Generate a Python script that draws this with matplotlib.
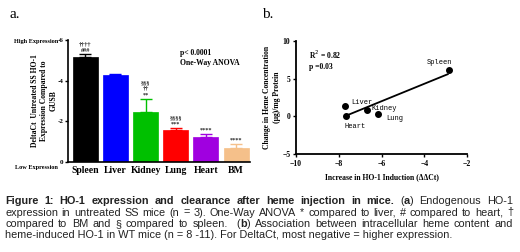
import numpy as np
import matplotlib
matplotlib.use('Agg')
import matplotlib.pyplot as plt

# Dados - painel a
tecidos = ['Spleen', 'Liver', 'Kidney', 'Lung', 'Heart', 'BM']
delta_ct = [-5.15, -4.28, -2.47, -1.57, -1.21, -0.69]
erro = [0.15, 0.05, 0.64, 0.09, 0.17, 0.18]
cores = ['#000000', '#0000ff', '#00c000', '#ff0000', '#a000e0', '#f5c08a']
marcas = [['\u2020\u2020\u2020\u2020', '###'], [], ['\u00a7\u00a7\u00a7', '\u2020\u2020', '**'],
          ['\u00a7\u00a7\u00a7\u00a7', '***'], ['****'], ['****']]

# Dados - painel b
orgaos = ['Spleen', 'Liver', 'Kidney', 'Lung', 'Heart']
ddct = [-2.85, -7.7, -6.7, -6.15, -7.65]
heme = [6.2, 1.4, 0.9, 0.3, 0.0]

W, H = 520, 252
fig = plt.figure(figsize=(W / 100, H / 100), dpi=100)

def fx(x):
    return x / W

def fy(y):
    return 1 - y / H

serif = 'Liberation Serif'

# ---------------- Painel a ----------------
ax1 = fig.add_axes([fx(68), fy(162), fx(182), 122 / H])
pos = np.arange(len(tecidos))
ax1.bar(pos, delta_ct, width=0.83, color=cores, edgecolor=cores, linewidth=0.5)
for i in pos:
    ax1.errorbar(pos[i], delta_ct[i], yerr=[[erro[i]], [0]], color=cores[i],
                 capsize=4, elinewidth=1, capthick=1)
    topo = delta_ct[i] - erro[i]
    for k, m in enumerate(reversed(marcas[i])):
        ax1.text(pos[i], topo - 0.08 - k * 0.3, m, ha='center', va='bottom',
                 fontsize=4.5, family=serif, weight='bold', color='#222222')
ax1.set_xlim(-0.57, 5.46)
ax1.set_ylim(0, -6)
ax1.set_yticks([0, -2, -4, -6])
ax1.set_yticklabels(['0', '-2', '-4', '-6'])
ax1.set_xticks(pos)
ax1.set_xticklabels(tecidos)
for s in ['top', 'right']:
    ax1.spines[s].set_visible(False)
for s in ['left', 'bottom']:
    ax1.spines[s].set_linewidth(1.2)
ax1.tick_params(axis='y', labelsize=5, length=2.5, width=1, pad=1)
ax1.tick_params(axis='x', labelsize=7, length=0, pad=3)
for t in ax1.get_yticklabels() + ax1.get_xticklabels():
    t.set_family(serif)
    t.set_weight('bold')
ax1.text(3.15, -5.55, 'p< 0.0001\nOne-Way ANOVA', fontsize=5.5, family=serif,
         weight='bold', va='top', linespacing=1.25)

fig.text(fx(10), fy(14), 'a.', fontsize=11, family=serif, va='center')
fig.text(fx(36), fy(41), 'High Expression', fontsize=4.5, family=serif,
         weight='bold', ha='center', va='center')
fig.text(fx(36), fy(167), 'Low Expression', fontsize=4.5, family=serif,
         weight='bold', ha='center', va='center')
fig.text(fx(44), fy(101), 'DeltaCt  Untreated SS HO-1\nExpression Compared to\nGUSB',
         fontsize=5.5, family=serif, weight='bold', rotation=90, ha='center',
         va='center', linespacing=1.2)

# ---------------- Painel b ----------------
ax2 = fig.add_axes([fx(296), fy(154), fx(171), 113 / H])
ax2.plot(ddct, heme, 'o', color='black', markersize=4)
a, b = np.polyfit(ddct, heme, 1)
xs = np.array([min(ddct) + 0.05, max(ddct) - 0.05])
ax2.plot(xs, a * xs + b, color='black', linewidth=1.3)
desloc = {'Spleen': (-0.45, 0.9, 'center'), 'Liver': (0.3, 0.5, 'left'),
          'Kidney': (0.25, 0.1, 'left'), 'Lung': (0.35, -0.6, 'left'),
          'Heart': (-0.1, -1.3, 'left')}
for nome, x, y in zip(orgaos, ddct, heme):
    dx, dy, al = desloc[nome]
    ax2.text(x + dx, y + dy, nome, fontsize=5, family='Liberation Mono',
             ha=al, va='center')
ax2.set_xlim(-10, -2)
ax2.set_ylim(-5, 10)
ax2.set_xticks([-10, -8, -6, -4, -2])
ax2.set_yticks([-5, 0, 5, 10])
for s in ['top', 'right']:
    ax2.spines[s].set_visible(False)
for s in ['left', 'bottom']:
    ax2.spines[s].set_linewidth(1.3)
ax2.tick_params(labelsize=5.5, length=2.5, width=1, pad=1.5)
for t in ax2.get_yticklabels() + ax2.get_xticklabels():
    t.set_family(serif)
    t.set_weight('bold')
ax2.text(-9.4, 9.0, 'R$^2$ = 0.82\np =0.03', fontsize=5.5, family=serif,
         weight='bold', va='top', linespacing=1.3)
ax2.set_xlabel('Increase in HO-1 Induction (\u0394\u0394Ct)', fontsize=5.5,
               family=serif, weight='bold', labelpad=4)

fig.text(fx(262), fy(14), 'b.', fontsize=11, family=serif, va='center')
fig.text(fx(272), fy(97), 'Change in Heme Concentration\n(\u03bcg)/mg Protein',
         fontsize=5.5, family=serif, weight='bold', rotation=90, ha='center',
         va='center', linespacing=1.2)

# ---------------- Legenda ----------------
linhas = [
    [[('Figure', 'bold')], [('1:', 'bold')], [('HO-1', 'bold')], [('expression', 'bold')],
     [('and', 'bold')], [('clearance', 'bold')], [('after', 'bold')], [('heme', 'bold')],
     [('injection', 'bold')], [('in', 'bold')], [('mice.', 'bold')],
     [('(', 'normal'), ('a', 'bold'), (')', 'normal')], [('Endogenous', 'normal')],
     [('HO-1', 'normal')]],
    'expression in untreated SS mice (n = 3). One-Way ANOVA * compared to liver, # compared to heart, \u2020',
    [[(w, 'normal')] for w in 'compared to BM and \u00a7 compared to spleen. '.split()]
    + [[('', 'normal')]]
    + [[('(', 'normal'), ('b', 'bold'), (')', 'normal')]]
    + [[(w, 'normal')] for w in 'Association between intracellular heme content and'.split()],
    None,
]
linhas[1] = [[(w, 'normal')] for w in linhas[1].split()]
ultima = 'heme-induced HO-1 in WT mice (n = 8 -11). For DeltaCt, most negative = higher expression.'
ys = [201, 212.5, 224, 235.5]
x0, x1 = 5, 513
fs = 7.85
fig.canvas.draw()
rend = fig.canvas.get_renderer()

def largura(txt, peso):
    t = fig.text(0, 0, txt, fontsize=fs, family='Liberation Sans', weight=peso)
    w = t.get_window_extent(rend).width
    t.remove()
    return w

for i in range(3):
    palavras = linhas[i]
    larg = [sum(largura(p, w) for p, w in pal) for pal in palavras]
    gap = (x1 - x0 - sum(larg)) / (len(palavras) - 1)
    x = x0
    for pal, lw in zip(palavras, larg):
        xx = x
        for p, w in pal:
            fig.text(fx(xx), fy(ys[i]), p, fontsize=fs, family='Liberation Sans',
                     weight=w, va='center', color='#222222')
            xx += largura(p, w)
        x += lw + gap
fig.text(fx(x0), fy(ys[3]), ultima, fontsize=fs, family='Liberation Sans',
         va='center', color='#222222')

fig.savefig('out.png', dpi=100)
